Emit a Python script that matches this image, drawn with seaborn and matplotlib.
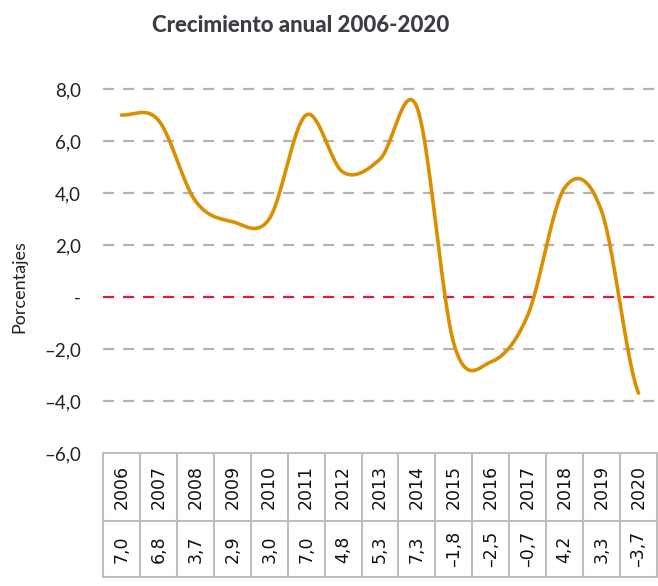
import numpy as np
import pandas as pd
import matplotlib
matplotlib.use("Agg")
import matplotlib.pyplot as plt
import seaborn as sns

# Annual growth data
years = ["2006", "2007", "2008", "2009", "2010", "2011", "2012", "2013",
         "2014", "2015", "2016", "2017", "2018", "2019", "2020"]
growth = [7.0, 6.8, 3.7, 2.9, 3.0, 7.0, 4.8, 5.3, 7.3, -1.8, -2.5, -0.7, 4.2, 3.3, -3.7]
y_ticks = [8, 6, 4, 2, 0, -2, -4, -6]
y_tick_labels = ["8,0", "6,0", "4,0", "2,0", "-", "\u20132,0", "\u20134,0", "\u20136,0"]

sns.set_theme(style="white")
plt.rcParams["font.family"] = ["Lato", "DejaVu Sans"]

W, H = 658, 586
fig = plt.figure(figsize=(W / 100, H / 100), dpi=100)


def fx(px):
    return px / W


def fy(py):
    return 1 - py / H


# Smoothed line through the yearly points (cubic Bezier, Catmull-Rom tangents)
def smooth(xv, yv, n=40):
    xv = np.asarray(xv, float)
    yv = np.asarray(yv, float)
    px = np.concatenate([[2 * xv[0] - xv[1]], xv, [2 * xv[-1] - xv[-2]]])
    py = np.concatenate([[yv[0]], yv, [yv[-1]]])
    out_x, out_y = [], []
    for i in range(1, len(px) - 2):
        p0, p1, p2, p3 = (np.array([px[j], py[j]]) for j in (i - 1, i, i + 1, i + 2))
        c1 = p1 + (p2 - p0) / 6
        c2 = p2 - (p3 - p1) / 6
        t = np.linspace(0, 1, n)[:, None]
        b = ((1 - t) ** 3) * p1 + 3 * ((1 - t) ** 2) * t * c1 + 3 * (1 - t) * t ** 2 * c2 + t ** 3 * p2
        out_x.extend(b[:, 0])
        out_y.extend(b[:, 1])
    return np.array(out_x), np.array(out_y)


xpos = np.arange(len(years))
sx, sy = smooth(xpos, growth)
curve = pd.DataFrame({"x": sx, "y": sy})

# Main chart area
ax = fig.add_axes([fx(103), fy(453), fx(657) - fx(103), fy(89) - fy(453)])
ax.set_xlim(-0.5, len(years) - 0.5)
ax.set_ylim(-6, 8)
for v in y_ticks:
    if v == -6:
        continue
    color = "#D81E3C" if v == 0 else "#B4B4B4"
    ax.axhline(v, color=color, lw=1.6, ls=(0, (5, 4)), clip_on=False, zorder=1)

sns.lineplot(data=curve, x="x", y="y", ax=ax, color="#DB8F00", lw=2.6,
             sort=False, estimator=None, zorder=3)

for s in ax.spines.values():
    s.set_visible(False)
ax.set_xticks([])
ax.set_xlabel("")
ax.set_ylabel("")
ax.set_yticks(y_ticks)
ax.set_yticklabels(y_tick_labels, fontsize=13.5, color="#222222")
ax.tick_params(axis="y", length=0, pad=16)

fig.text(fx(19), fy(287), "Porcentajes", rotation=90, ha="center", va="center",
         fontsize=13, color="#222222")

fig.text(fx(301), fy(25), "Crecimiento anual 2006-2020", ha="center", va="center",
         fontsize=16, fontweight="black", color="#3C3C44")

# Data table under the chart
tab = fig.add_axes([fx(103), fy(577), fx(657) - fx(103), fy(453) - fy(577)])
tab.set_xlim(-0.5, len(years) - 0.5)
tab.set_ylim(0, 1)
tab.axis("off")
split = (577 - 521) / (577 - 453)
gcol = "#BDBDBD"
for yv in (0, split, 1):
    tab.plot([-0.5, len(years) - 0.5], [yv, yv], color=gcol, lw=1.5, clip_on=False)
for i in range(len(years) + 1):
    tab.plot([i - 0.5, i - 0.5], [0, 1], color=gcol, lw=1.5, clip_on=False)

tfont = ["DejaVu Sans"]
for i, (yr, g) in enumerate(zip(years, growth)):
    tab.text(i, (split + 1) / 2, yr, rotation=90, ha="center", va="center",
             fontsize=12.5, color="#111111", family=tfont)
    lab = f"{g:.1f}".replace(".", ",").replace("-", "\u2013")
    tab.text(i, split / 2, lab, rotation=90, ha="center", va="center",
             fontsize=12.5, color="#111111", family=tfont)

fig.savefig("out.png", dpi=100)
